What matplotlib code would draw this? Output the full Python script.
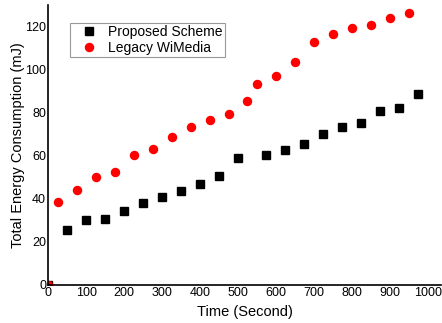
import matplotlib
matplotlib.use("Agg")
import matplotlib.pyplot as plt

plt.rcParams['font.family'] = ['Liberation Sans', 'DejaVu Sans']

# Proposed scheme (black squares)
proposed_x = [0, 50, 100, 150, 200, 250, 300, 350, 400, 450, 500,
              575, 625, 675, 725, 775, 825, 875, 925, 975]
proposed_y = [0, 25.6, 30.2, 30.7, 34.4, 38.1, 40.9, 43.7, 47.0, 50.7, 58.9,
              60.5, 62.5, 65.3, 70.2, 73.5, 75.3, 80.9, 82.3, 88.8]

# Legacy WiMedia (red circles)
legacy_x = [0, 25, 75, 125, 175, 225, 275, 325, 375, 425, 475,
            525, 550, 600, 650, 700, 750, 800, 850, 900, 950]
legacy_y = [0, 38.6, 44.2, 50.2, 52.6, 60.5, 63.3, 68.8, 73.5, 76.7, 79.4,
            85.3, 93.3, 97.0, 103.6, 112.6, 116.3, 119.1, 120.6, 124.0, 126.0]

x_ticks = [0, 100, 200, 300, 400, 500, 600, 700, 800, 900, 1000]
y_ticks = [0, 20, 40, 60, 80, 100, 120]

fig = plt.figure(figsize=(4.42, 3.23), dpi=100)
ax = fig.add_axes([0.109, 0.118, 0.889, 0.867])

ax.plot(proposed_x, proposed_y, 's', color='black', markersize=5.6,
        label='Proposed Scheme')
ax.plot(legacy_x, legacy_y, 'o', color='red', markersize=5.8,
        label='Legacy WiMedia')

ax.set_xlim(0, 1035)
ax.set_ylim(0, 130)
ax.set_xticks(x_ticks)
ax.set_yticks(y_ticks)
ax.tick_params(length=0, labelsize=9, pad=1.5)

for side in ['top', 'right']:
    ax.spines[side].set_visible(False)
for side in ['left', 'bottom']:
    ax.spines[side].set_linewidth(1.2)

ax.set_xlabel('Time (Second)', fontsize=10.5, labelpad=4)
ax.set_ylabel('Total Energy Consumption (mJ)', fontsize=10.5, labelpad=0)

leg = ax.legend(loc='upper left', bbox_to_anchor=(0.056, 0.936), fontsize=10,
                frameon=True, fancybox=False, handletextpad=0.2,
                borderpad=0.15, labelspacing=0.15, handlelength=2.4,
                borderaxespad=0)
leg.get_frame().set_edgecolor('gray')
leg.get_frame().set_linewidth(0.8)

fig.savefig('out.png', dpi=100)
